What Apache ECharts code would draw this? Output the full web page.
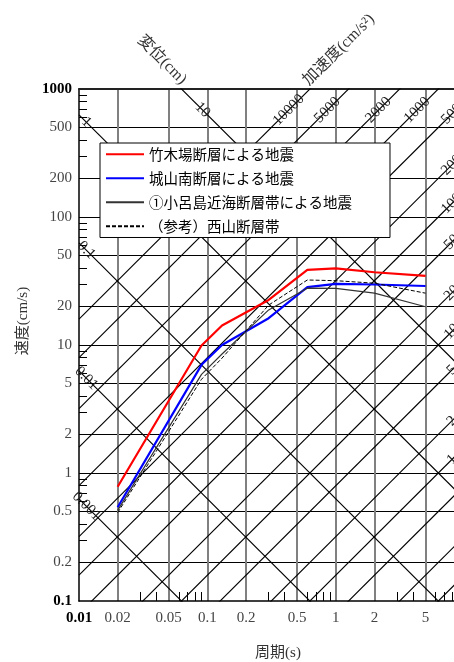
<!DOCTYPE html>
<html><head><meta charset="utf-8">
<script src="https://cdn.jsdelivr.net/npm/echarts@6/dist/echarts.min.js"></script>
<style>html,body{margin:0;padding:0;background:#fff}#c{width:454px;height:662px}</style>
</head><body><div id="c"></div>
<script>
// ---- data ----
const periods = [0.02, 0.09, 0.13, 0.3, 0.6, 1, 2, 5];
const takegibaVel = [0.78, 9.9, 14.2, 22.5, 38.6, 39.7, 37.0, 34.7];
const shiroyamaVel = [0.54, 7.0, 10.0, 16.2, 28.3, 30.0, 29.7, 28.9];
const oroshimaVel = [0.51, 5.9, 8.5, 18.8, 27.8, 27.7, 25.4, 19.9];
const nishiyamaVel = [0.49, 5.4, 7.9, 20.5, 32.2, 31.8, 30.4, 25.4];
const seriesNames = ['竹木場断層による地震', '城山南断層による地震', '①小呂島近海断層帯による地震', '（参考）西山断層帯'];

const xTickLabels = [0.01, 0.02, 0.05, 0.1, 0.2, 0.5, 1, 2, 5];
const xGridValues = [0.02, 0.05, 0.1, 0.2, 0.5, 1, 2, 5];
const xMinorTicks = [0.03, 0.04, 0.06, 0.07, 0.08, 0.09, 0.3, 0.4, 0.6, 0.7, 0.8, 0.9, 3, 4, 6, 7, 8, 9];
const yTickLabels = [0.1, 0.2, 0.5, 1, 2, 5, 10, 20, 50, 100, 200, 500, 1000];
const yGridValues = [0.2, 0.5, 1, 2, 5, 10, 20, 50, 100, 200, 500];
const yMinorTicks = [0.3, 0.4, 0.6, 0.7, 0.8, 0.9, 3, 4, 6, 7, 8, 9, 30, 40, 60, 70, 80, 90, 300, 400, 600, 700, 800, 900];

const dispLines = [0.001, 0.01, 0.1, 1, 10];            // cm
const accelLines = [0.1, 0.2, 0.5, 1, 2, 5, 10, 20, 50, 100, 200, 500, 1000, 2000, 5000, 10000]; // cm/s^2
const accelTopLabels = [10000, 5000, 2000, 1000];
const accelSideLabels = [500, 200, 100, 50, 20, 10, 5, 2, 1];
const dispSideLabels = [1, 0.1, 0.01, 0.001];
const dispTopLabels = [10];

const T_MIN = 0.01, T_MAX = 10, V_MIN = 0.1, V_MAX = 1000;
const TWO_PI = 2 * Math.PI;

const fmt = v => String(parseFloat(Number(v).toPrecision(4)));
const serif = "'Liberation Serif', 'DejaVu Serif', serif";
const jpSerif = "'Liberation Serif', 'Noto Sans CJK JP', serif";

const series = [];
// tripartite guide lines
accelLines.forEach(a => {
  series.push({
    type: 'line', silent: true, symbol: 'none', z: 1,
    xAxisIndex: 0, yAxisIndex: 0, clip: true,
    lineStyle: { color: '#000', width: 1.15 },
    data: [[T_MIN, a * T_MIN / TWO_PI], [T_MAX, a * T_MAX / TWO_PI]]
  });
});
dispLines.forEach(d => {
  series.push({
    type: 'line', silent: true, symbol: 'none', z: 1,
    xAxisIndex: 0, yAxisIndex: 0, clip: true,
    lineStyle: { color: '#000', width: 1.15 },
    data: [[T_MIN, TWO_PI * d / T_MIN], [T_MAX, TWO_PI * d / T_MAX]]
  });
});
// guide labels
const labelData = [];
const TOP_V = 685, SIDE_T = 8.0, LEFT_T = 0.01142;
accelTopLabels.forEach(a => labelData.push({ value: [TWO_PI * TOP_V / a, TOP_V], label: { formatter: fmt(a), rotate: 45, offset: [0, -9] } }));
accelSideLabels.forEach(a => labelData.push({ value: [SIDE_T, a * SIDE_T / TWO_PI], label: { formatter: fmt(a), rotate: 45, offset: [0, -9] } }));
dispSideLabels.forEach(d => labelData.push({ value: [LEFT_T, TWO_PI * d / LEFT_T], label: { formatter: fmt(d), rotate: -45, offset: [0, -8] } }));
dispTopLabels.forEach(d => labelData.push({ value: [TWO_PI * d / TOP_V, TOP_V], label: { formatter: fmt(d), rotate: -45, offset: [0, -8] } }));
series.push({
  type: 'scatter', silent: true, symbolSize: 1, z: 3, clip: false,
  itemStyle: { color: 'rgba(0,0,0,0)' },
  label: { show: true, position: 'inside', color: '#222', fontSize: 15, fontFamily: serif, opacity: 1 },
  labelLayout: { hideOverlap: false },
  data: labelData
});

const curveStyles = [
  { color: '#ff0000', width: 2.2, type: 'solid' },
  { color: '#0000ff', width: 2.2, type: 'solid' },
  { color: '#333333', width: 1.2, type: 'solid' },
  { color: '#000000', width: 1, type: [4, 2] }
];
[takegibaVel, shiroyamaVel, oroshimaVel, nishiyamaVel].forEach((vals, i) => {
  series.push({
    name: seriesNames[i], type: 'line', symbol: 'none', z: 5,
    xAxisIndex: 0, yAxisIndex: 0,
    lineStyle: curveStyles[i], itemStyle: { color: curveStyles[i].color },
    data: periods.map((t, k) => [t, vals[k]])
  });
});

const chart = echarts.init(document.getElementById('c'), null, { renderer: 'canvas' });
chart.setOption({
  animation: false,
  backgroundColor: '#fff',
  grid: { left: 79, top: 89, width: 385.2, height: 512, outerBoundsMode: 'none', containLabel: false },
  legend: {
    data: seriesNames, orient: 'vertical', left: 100, top: 143,
    backgroundColor: '#fff', borderColor: '#000', borderWidth: 1, borderRadius: 0,
    padding: [4, 38, 4, 5], itemGap: 9.5, itemWidth: 38, itemHeight: 14,
    itemStyle: { opacity: 0, borderWidth: 0 },
    textStyle: { fontSize: 14.5, fontFamily: "'Noto Sans CJK JP', sans-serif", color: '#000' },
    selectedMode: false
  },
  xAxis: [
    {
      type: 'log', min: T_MIN, max: T_MAX, position: 'bottom', gridIndex: 0,
      axisLine: { show: true, onZero: false, lineStyle: { color: '#000', width: 1.5 } },
      axisTick: { show: true, inside: true, length: 9, customValues: xMinorTicks, lineStyle: { color: '#000', width: 1 } },
      axisLabel: {
        show: true, customValues: xTickLabels, margin: 10, color: '#444', fontSize: 15, fontFamily: serif,
        formatter: v => (fmt(v) === '0.01' ? '{b|0.01}' : fmt(v)),
        rich: { b: { fontSize: 15, fontFamily: serif, fontWeight: 'bold', color: '#000' } }
      },
      splitLine: { show: false }, minorTick: { show: false }
    },
    {
      type: 'log', min: T_MIN, max: T_MAX, position: 'top', gridIndex: 0,
      axisLine: { show: true, onZero: false, lineStyle: { color: '#222', width: 2 } },
      axisTick: { show: false, customValues: xGridValues },
      axisLabel: { show: false },
      splitLine: { show: true, lineStyle: { color: '#808080', width: 2 } }
    }
  ],
  yAxis: [
    {
      type: 'log', min: V_MIN, max: V_MAX, position: 'left', gridIndex: 0,
      axisLine: { show: true, onZero: false, lineStyle: { color: '#000', width: 1.5 } },
      axisTick: { show: true, inside: true, length: 8, customValues: yMinorTicks, lineStyle: { color: '#000', width: 1 } },
      axisLabel: {
        show: true, customValues: yTickLabels, margin: 7, color: '#444', fontSize: 15, fontFamily: serif,
        formatter: v => { const s = fmt(v); return (s === '1000' || s === '0.1') ? '{b|' + s + '}' : s; },
        rich: { b: { fontSize: 15, fontFamily: serif, fontWeight: 'bold', color: '#000' } }
      },
      splitLine: { show: false }
    },
    {
      type: 'log', min: V_MIN, max: V_MAX, position: 'right', gridIndex: 0,
      axisLine: { show: false },
      axisTick: { show: false, customValues: yGridValues },
      axisLabel: { show: false },
      splitLine: { show: true, lineStyle: { color: '#000', width: 1 } }
    }
  ],
  graphic: [
    { type: 'text', x: 23, y: 321, rotation: Math.PI / 2, silent: true,
      style: { text: '速度(cm/s)', align: 'center', verticalAlign: 'middle', fontSize: 15, fontFamily: jpSerif, fill: '#333' } },
    { type: 'text', x: 278, y: 653, silent: true,
      style: { text: '周期(s)', align: 'center', verticalAlign: 'middle', fontSize: 15, fontFamily: jpSerif, fill: '#333' } },
    { type: 'text', x: 162, y: 60, rotation: -Math.PI / 4, silent: true,
      style: { text: '変位(cm)', align: 'center', verticalAlign: 'middle', fontSize: 16, fontFamily: jpSerif, fill: '#333' } },
    { type: 'text', x: 339, y: 50, rotation: Math.PI / 4, silent: true,
      style: { text: '加速度(cm/s²)', align: 'center', verticalAlign: 'middle', fontSize: 16, fontFamily: jpSerif, fill: '#333' } }
  ],
  series: series
});
</script>
</body></html>
